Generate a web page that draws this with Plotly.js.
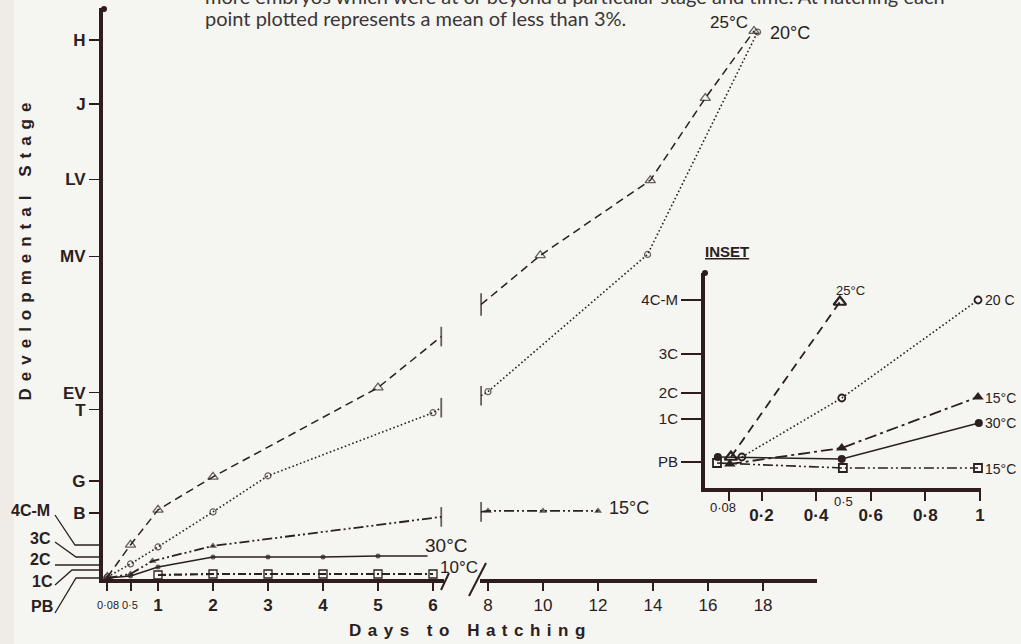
<!DOCTYPE html>
<html><head><meta charset="utf-8">
<script src="https://cdn.plot.ly/plotly-3.0.1.min.js"></script>
<style>html,body{margin:0;padding:0;background:#f5f5f2}</style>
</head><body><div id="chart" style="width:1021px;height:644px"></div>
<script>
// ---------- data ----------
// main y axis: developmental stage scale
const mainStageLabels = ['B', 'G', 'T', 'EV', 'MV', 'LV', 'J', 'H'];
const mainStageVals   = [6.6, 9.8, 16.9, 18.6, 32.2, 39.9, 47.4, 53.8];
const earlyStageLabels = ['4C-M', '3C', '2C', '1C', 'PB'];
const earlyStageVals   = [3.3, 2.2, 1.4, 1.0, 0.1];

// main x axes (days to hatching), split by a break between 6 and 8
const daysTicksA    = [0.08, 0.5, 1, 2, 3, 4, 5, 6];
const daysTickTextA = ['', '', '1', '2', '3', '4', '5', '6'];
const daysTicksB    = [8, 10, 12, 14, 16, 18];

// 25°C (open triangles, dashed)
const t25_xA = [0.08, 0.5, 1, 2, 5, 6.15];
const t25_yA = [0.2, 3.4, 6.9, 10.2, 19.1, 24.2];
const t25_xB = [7.75, 9.9, 13.9, 15.9, 17.67];
const t25_yB = [27.4, 32.3, 39.8, 48.0, 54.7];
// 20°C (open circles, dotted)
const t20_xA = [0.08, 0.5, 1, 2, 3, 6, 6.15];
const t20_yA = [0.2, 1.5, 3.2, 6.7, 10.3, 16.6, 17.1];
const t20_xB = [7.75, 8, 13.8, 17.8];
const t20_yB = [18.3, 18.7, 32.4, 54.6];
// 15°C (filled triangles, dash-dot-dot)
const t15_xA = [0.08, 0.5, 0.9, 2, 6.15];
const t15_yA = [0.1, 0.5, 1.8, 3.3, 6.2];
const t15_xB = [7.75, 8, 10, 12];
const t15_yB = [6.7, 6.8, 6.8, 6.8];
// 30°C (filled circles, solid)
const t30_x = [0.08, 0.5, 1, 2, 3, 4, 5, 5.9];
const t30_y = [0.1, 0.3, 1.2, 2.2, 2.2, 2.2, 2.3, 2.3];
// 10°C (open squares, dash-dot)
const t10_x = [1, 2, 3, 4, 5, 6];
const t10_y = [0.4, 0.5, 0.5, 0.5, 0.5, 0.5];

// inset
const insetStageLabels = ['PB', '1C', '2C', '3C', '4C-M'];
const insetStageVals   = [2.6, 6.9, 9.5, 13.4, 18.8];
const insetTicks    = [0.08, 0.2, 0.4, 0.6, 0.8, 1];
const insetTickText = ['', '0·2', '0·4', '0·6', '0·8', '1'];
const i25_x = [0.088, 0.487];        const i25_y = [3.1, 18.6];
const i20_x = [0.128, 0.494, 0.993]; const i20_y = [3.1, 9.0, 18.8];
const i15_x = [0.084, 0.494, 0.993]; const i15_y = [2.4, 4.0, 9.1];
const i30_x = [0.040, 0.494, 0.996]; const i30_y = [3.1, 2.9, 6.5];
const i10_x = [0.037, 0.498, 0.993]; const i10_y = [2.5, 2.0, 2.0];

// ---------- styling helpers ----------
const W = 1021, H = 644;
const P = x => x / W;          // pixel -> paper x
const Q = y => 1 - y / H;      // pixel -> paper y
const INK = '#2a2020';
const AX = '#2e1c1e';
const FONT = 'Liberation Sans, Arial, sans-serif';

function rep(v, n) { return Array(n).fill(v); }

function series(x, y, xa, ya, dash, width, symbols, sizes, lw) {
  return {
    type: 'scatter', mode: 'lines+markers', x: x, y: y, xaxis: xa, yaxis: ya,
    line: {color: INK, width: width, dash: dash},
    marker: {color: INK, symbol: symbols, size: sizes, line: {color: INK, width: lw}},
    cliponaxis: false, hoverinfo: 'skip'
  };
}

const D25 = '8px,5px';
const D20 = '1.6px,2.4px';
const D15 = '10px,3px,2px,3px,2px,3px';
const D10 = '8px,3px,2px,3px';

const traces = [
  series(t25_xA, t25_yA, 'x', 'y', D25, 1.5,
    rep('triangle-up-open', t25_xA.length - 1).concat(['line-ns-open']),
    rep(9, t25_xA.length - 1).concat([14]), rep(1.3, t25_xA.length - 1).concat([1.8])),
  series(t25_xB, t25_yB, 'x2', 'y', D25, 1.5,
    ['line-ns-open'].concat(rep('triangle-up-open', t25_xB.length - 1)),
    [16].concat(rep(9, t25_xB.length - 1)), [1.8].concat(rep(1.3, t25_xB.length - 1))),
  series(t20_xA, t20_yA, 'x', 'y', D20, 1.6,
    rep('circle-open', t20_xA.length - 1).concat(['line-ns-open']),
    rep(6, t20_xA.length - 1).concat([14]), rep(1.2, t20_xA.length - 1).concat([1.8])),
  series(t20_xB, t20_yB, 'x2', 'y', D20, 1.6,
    ['line-ns-open'].concat(rep('circle-open', t20_xB.length - 1)),
    [14].concat(rep(6, t20_xB.length - 1)), [1.8].concat(rep(1.2, t20_xB.length - 1))),
  series(t15_xA, t15_yA, 'x', 'y', D15, 1.8,
    rep('triangle-up', t15_xA.length - 1).concat(['line-ns-open']),
    rep(7, t15_xA.length - 1).concat([14]), rep(0, t15_xA.length - 1).concat([1.8])),
  series(t15_xB, t15_yB, 'x2', 'y', D15, 1.8,
    ['line-ns-open'].concat(rep('triangle-up', t15_xB.length - 1)),
    [14].concat(rep(7, t15_xB.length - 1)), [1.8].concat(rep(0, t15_xB.length - 1))),
  series(t30_x, t30_y, 'x', 'y', 'solid', 1.5, 'circle',
    rep(5, t30_x.length - 1).concat([0]), 0),
  series(t10_x, t10_y, 'x', 'y', D10, 2.2, 'square-open', 8, 1.3),
  // inset
  series(i25_x, i25_y, 'x3', 'y2', '9px,6px', 1.8, 'triangle-up-open', 11, 2.2),
  series(i20_x, i20_y, 'x3', 'y2', D20, 1.6, 'circle-open', 7, 1.8),
  series(i15_x, i15_y, 'x3', 'y2', '12px,4px,3px,4px', 1.8, 'triangle-up', 10, 0),
  series(i30_x, i30_y, 'x3', 'y2', 'solid', 1.5, 'circle', 8, 0),
  series(i10_x, i10_y, 'x3', 'y2', '10px,3px,2px,3px,2px,3px', 1.6, 'square-open', 8, 1.8)
];

function axisBase() {
  return {showline: true, linecolor: AX, showgrid: false, zeroline: false,
          ticks: 'outside', tickcolor: AX, fixedrange: true};
}

const layout = {
  width: W, height: H,
  margin: {l: 0, r: 0, t: 0, b: 0},
  paper_bgcolor: '#f5f5f2', plot_bgcolor: 'rgba(0,0,0,0)',
  showlegend: false,
  xaxis: Object.assign(axisBase(), {
    domain: [P(103), P(444)], range: [0, 6.2], anchor: 'y',
    linewidth: 4, ticklen: 8, tickwidth: 2,
    tickvals: daysTicksA, ticktext: daysTickTextA,
    tickfont: {family: FONT, size: 17, color: INK, weight: 'bold'}
  }),
  xaxis2: Object.assign(axisBase(), {
    domain: [P(480), P(817)], range: [7.71, 19.96], anchor: 'y',
    linewidth: 4, ticklen: 8, tickwidth: 2,
    tickvals: daysTicksB,
    tickfont: {family: FONT, size: 17, color: INK}
  }),
  yaxis: Object.assign(axisBase(), {
    domain: [Q(579), Q(8)], range: [0, 57], anchor: 'x',
    linewidth: 4, ticklen: 10, tickwidth: 1.5,
    tickvals: mainStageVals, ticktext: mainStageLabels,
    tickfont: {family: FONT, size: 17, color: INK, weight: 'bold'}
  }),
  xaxis3: Object.assign(axisBase(), {
    domain: [P(705), P(981)], range: [-0.007, 1.004], anchor: 'y2',
    linewidth: 4, ticklen: 9, tickwidth: 2,
    tickvals: insetTicks, ticktext: insetTickText,
    tickfont: {family: FONT, size: 17, color: INK, weight: 'bold'}
  }),
  yaxis2: Object.assign(axisBase(), {
    domain: [Q(488), Q(273)], range: [0, 21.5], anchor: 'x3',
    linewidth: 4, ticklen: 20, tickwidth: 2,
    tickvals: insetStageVals, ticktext: insetStageLabels,
    tickfont: {family: FONT, size: 15, color: INK}
  }),
  shapes: [],
  annotations: []
};

function ann(text, x, y, size, opts) {
  return Object.assign({
    text: text, x: P(x), y: Q(y), xref: 'paper', yref: 'paper',
    showarrow: false, xanchor: 'center', yanchor: 'middle',
    font: {family: FONT, size: size, color: INK}
  }, opts || {});
}

// axis titles
layout.annotations.push(ann('Days to Hatching', 470, 630, 17, {font: {family: FONT, size: 17, color: INK, weight: 'bold'}}));
layout.annotations.push(ann('Developmental Stage', 25, 248, 17, {textangle: -90, font: {family: FONT, size: 17, color: INK, weight: 'bold'}}));

// header caption (first line cut off by the top edge, as in the source)
const HFONT = {family: 'Lato, Open Sans, sans-serif', size: 20, color: '#3a3636'};
layout.annotations.push(ann('more embryos which were at or beyond a particular stage and time. At hatching each', 203, -4, 20, {xanchor: 'left', font: HFONT}));
layout.annotations.push(ann('point plotted represents a mean of less than 3%.', 203, 18, 20, {xanchor: 'left', font: HFONT}));

// small tick labels
layout.annotations.push(ann('0·08', 108, 605, 11));
layout.annotations.push(ann('0·5', 130, 605, 11));
layout.annotations.push(ann('0·08', 723, 507, 13));
layout.annotations.push(ann('0·5', 843, 501, 13));

// series labels (main)
layout.annotations.push(ann('25°C', 729, 23, 17));
layout.annotations.push(ann('20°C', 790, 33, 18));
layout.annotations.push(ann('15°C', 629, 508, 18));
layout.annotations.push(ann('30°C', 446, 545, 19));
layout.annotations.push(ann('10°C', 459, 567, 17));
// series labels (inset)
layout.annotations.push(ann('25°C', 850, 290, 13));
layout.annotations.push(ann('20 C', 983, 300, 14, {xanchor: 'left'}));
layout.annotations.push(ann('15°C', 983, 398, 14, {xanchor: 'left'}));
layout.annotations.push(ann('30°C', 983, 423, 14, {xanchor: 'left'}));
layout.annotations.push(ann('15°C', 983, 469, 14, {xanchor: 'left'}));
layout.annotations.push(ann('<u>INSET</u>', 727, 252, 15, {font: {family: FONT, size: 15, color: INK, weight: 'bold'}}));

// early-stage labels with leader lines (main y axis)
const leaderLabelPos = [[30, 510], [40, 538], [40, 559], [42, 581], [42, 606]];
const leaderPaths = [
  [[55, 515], [75, 545], [102, 545]],
  [[55, 542], [76, 557], [102, 557]],
  [[55, 565], [102, 565]],
  [[55, 585], [72, 570], [102, 570]],
  [[55, 613], [76, 578], [102, 578]]
];
earlyStageLabels.forEach((lab, i) => {
  layout.annotations.push(ann(lab, leaderLabelPos[i][0], leaderLabelPos[i][1], 16,
    {font: {family: FONT, size: 16, color: INK, weight: 'bold'}}));
  const pts = leaderPaths[i];
  const d = pts.map((p, k) => (k ? 'L' : 'M') + P(p[0]).toFixed(5) + ',' + Q(p[1]).toFixed(5)).join(' ');
  layout.shapes.push({type: 'path', xref: 'paper', yref: 'paper', path: d, line: {color: INK, width: 1.3}});
});

// axis break slashes
layout.shapes.push({type: 'line', xref: 'paper', yref: 'paper', x0: P(441), y0: Q(590), x1: P(449), y1: Q(573), line: {color: AX, width: 2}});
layout.shapes.push({type: 'line', xref: 'paper', yref: 'paper', x0: P(469), y0: Q(596), x1: P(486), y1: Q(563), line: {color: AX, width: 2}});
// rounded tops of y axis lines
layout.shapes.push({type: 'circle', xref: 'paper', yref: 'paper', x0: P(702), y0: Q(270), x1: P(708), y1: Q(276), fillcolor: AX, line: {width: 0}});
layout.shapes.push({type: 'circle', xref: 'paper', yref: 'paper', x0: P(101), y0: Q(6), x1: P(107), y1: Q(12), fillcolor: AX, line: {width: 0}});
// faint warm tint at left edge of the scan
layout.shapes.push({type: 'rect', xref: 'paper', yref: 'paper', x0: 0, y0: 0, x1: P(14), y1: 1, fillcolor: '#efe4dc', opacity: 0.6, line: {width: 0}, layer: 'below'});

Plotly.newPlot('chart', traces, layout, {staticPlot: true}).then(() => {
  document.querySelectorAll('.annotation-text').forEach(t => {
    const s = t.textContent;
    if (s === 'Days to Hatching') t.style.letterSpacing = '6.5px';
    if (s === 'Developmental Stage') t.style.letterSpacing = '7px';
  });
});
</script>
</body></html>
